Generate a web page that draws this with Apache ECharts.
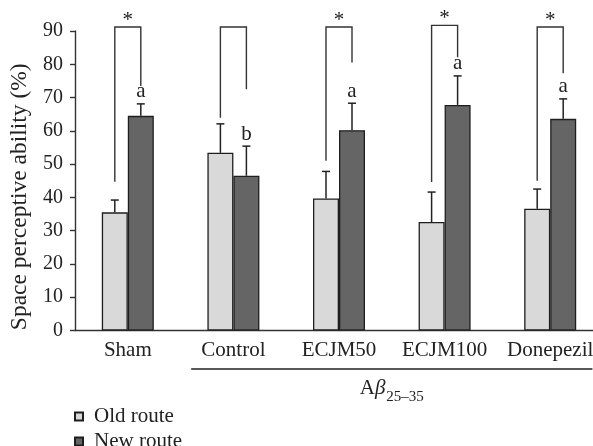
<!DOCTYPE html>
<html><head><meta charset="utf-8">
<script src="https://cdn.jsdelivr.net/npm/echarts@6/dist/echarts.min.js"></script>
<style>html,body{margin:0;padding:0;background:#fff}#c{width:593px;height:446px}</style>
</head><body><div id="c"></div>
<script>
// ---- data ----
const categories = ['Sham', 'Control', 'ECJM50', 'ECJM100', 'Donepezil'];
const oldRoute = [35.5, 53.4, 39.7, 32.6, 36.6];
const oldErr = [3.7, 8.7, 8.1, 9.0, 5.9];
const newRoute = [64.5, 46.5, 60.2, 67.8, 63.6];
const newErr = [3.6, 8.9, 8.1, 8.7, 6.0];
const bracketTop = [91.2, 91.2, 91.2, 91.7, 91.2];
const bracketLeft = [44.7, 63.9, 51.0, 44.6, 45.0];
const bracketRight = [73.5, 72.5, 80.5, 82.1, 77.3];
const starMarks = ['*', '', '*', '*', '*'];
const letterMarks = ['a', 'b', 'a', 'a', 'a'];
const yMin = 0, yMax = 90, yInterval = 10;
const groupSpan = [1, 4];
const seriesNames = ['Old route', 'New route'];

// ---- styles ----
const FONT = 'Liberation Serif';
const BAR_W = 26;
const CAP = 4;
const INK = '#222';

const chart = echarts.init(document.getElementById('c'), null, {renderer: 'canvas'});

function errRender(side, letters) {
  return function (params, api) {
    const i = api.value(0);
    const base = api.coord([i, api.value(1)]);
    const top = api.coord([i, api.value(1) + api.value(2)]);
    const x = base[0] + side * BAR_W / 2;
    const children = [
      {type: 'line', shape: {x1: x, y1: base[1], x2: x, y2: top[1]}, style: {stroke: INK, lineWidth: 1.5}},
      {type: 'line', shape: {x1: x - CAP, y1: top[1], x2: x + CAP, y2: top[1]}, style: {stroke: INK, lineWidth: 1.5}}
    ];
    if (letters && letters[params.dataIndex]) {
      children.push({type: 'text', x: x, y: top[1] - 12, style: {
        text: letters[params.dataIndex], fill: INK, font: '21px "' + FONT + '"',
        align: 'center', verticalAlign: 'middle'}});
    }
    return {type: 'group', children: children};
  };
}

function bracketRender(params, api) {
  const i = api.value(0);
  const c = api.coord([i, api.value(1)]);
  const xL = c[0] - BAR_W / 2, xR = c[0] + BAR_W / 2;
  const yT = c[1];
  const yL = api.coord([i, api.value(2)])[1];
  const yR = api.coord([i, api.value(3)])[1];
  const children = [{type: 'polyline', shape: {points: [[xL, yL], [xL, yT], [xR, yT], [xR, yR]]},
    style: {stroke: '#333', lineWidth: 1.4, fill: null}}];
  const s = starMarks[params.dataIndex];
  if (s) {
    children.push({type: 'text', x: c[0], y: yT - 7, style: {text: s, fill: INK,
      font: '21px "' + FONT + '"', align: 'center', verticalAlign: 'middle'}});
  }
  return {type: 'group', children: children};
}

function groupRender(params, api) {
  const a = api.value(0), b = api.value(1);
  const band = api.size([1, 0])[0];
  const x1 = api.coord([a, 0])[0] - band / 2 + band * 0.1;
  const x2 = api.coord([b, 0])[0] + band / 2 - band * 0.1;
  const y = api.coord([a, 0])[1] + 38.5;
  return {type: 'group', children: [
    {type: 'line', shape: {x1: x1, y1: y, x2: x2, y2: y}, style: {stroke: INK, lineWidth: 1.3}},
    {type: 'text', x: (x1 + x2) / 2, y: y + 6, style: {
      text: '{a|A}{b|β}{s|25–35}', align: 'center', verticalAlign: 'top',
      rich: {
        a: {fontFamily: FONT, fontSize: 21, fill: INK, lineHeight: 24, verticalAlign: 'bottom'},
        b: {fontFamily: FONT, fontSize: 21, fontStyle: 'italic', fill: INK, lineHeight: 24, verticalAlign: 'bottom'},
        s: {fontFamily: FONT, fontSize: 15, fill: INK, lineHeight: 24, verticalAlign: 'bottom', padding: [0, 0, -6, 1]}
      }}}
  ]};
}

const legendText = {fontFamily: FONT, fontSize: 21, color: INK, lineHeight: 21, padding: [0, 0, 0, 6]};

const option = {
  animation: false,
  backgroundColor: '#fff',
  grid: {left: 75, top: 31, width: 528, bottom: 115.5, containLabel: false, outerBoundsMode: 'none'},
  legend: [
    {data: [seriesNames[0]], left: 74, top: 406, padding: 0, itemWidth: 8, itemHeight: 8, icon: 'rect', textStyle: legendText},
    {data: [seriesNames[1]], left: 74, top: 431, padding: 0, itemWidth: 8, itemHeight: 8, icon: 'rect', textStyle: legendText}
  ],
  xAxis: {
    type: 'category', data: categories,
    axisLine: {lineStyle: {color: '#333', width: 1.4}},
    axisTick: {length: 5, interval: 0, lineStyle: {color: '#333', width: 1.4}},
    axisLabel: {fontFamily: FONT, fontSize: 21, color: INK, margin: 9, interval: 0}
  },
  yAxis: {
    type: 'value', min: yMin, max: yMax, interval: yInterval,
    name: 'Space perceptive ability (%)', nameLocation: 'middle', nameGap: 42,
    nameTextStyle: {fontFamily: FONT, fontSize: 23.5, color: INK, padding: [0, 32, 0, 0]},
    splitLine: {show: false},
    axisLine: {show: true, lineStyle: {color: '#333', width: 1.4}},
    axisTick: {show: true, length: 5, lineStyle: {color: '#333', width: 1.4}},
    axisLabel: {fontFamily: FONT, fontSize: 20, color: INK, margin: 12}
  },
  series: [
    {name: seriesNames[0], type: 'bar', data: oldRoute, barWidth: BAR_W, barGap: '0%',
      itemStyle: {color: '#d9d9d9', borderColor: '#1e1e1e', borderWidth: 1.3}},
    {name: seriesNames[1], type: 'bar', data: newRoute, barWidth: BAR_W, barGap: '0%',
      itemStyle: {color: '#656565', borderColor: '#1e1e1e', borderWidth: 1.3}},
    {type: 'custom', renderItem: errRender(-1, null), silent: true, z: 3,
      data: categories.map((c, i) => [i, oldRoute[i], oldErr[i]])},
    {type: 'custom', renderItem: errRender(1, letterMarks), silent: true, z: 3,
      data: categories.map((c, i) => [i, newRoute[i], newErr[i]])},
    {type: 'custom', renderItem: bracketRender, silent: true, z: 3,
      data: categories.map((c, i) => [i, bracketTop[i], bracketLeft[i], bracketRight[i]])},
    {type: 'custom', renderItem: groupRender, silent: true, z: 3,
      data: [[groupSpan[0], groupSpan[1]]]}
  ]
};
chart.setOption(option);
</script>
</body></html>
